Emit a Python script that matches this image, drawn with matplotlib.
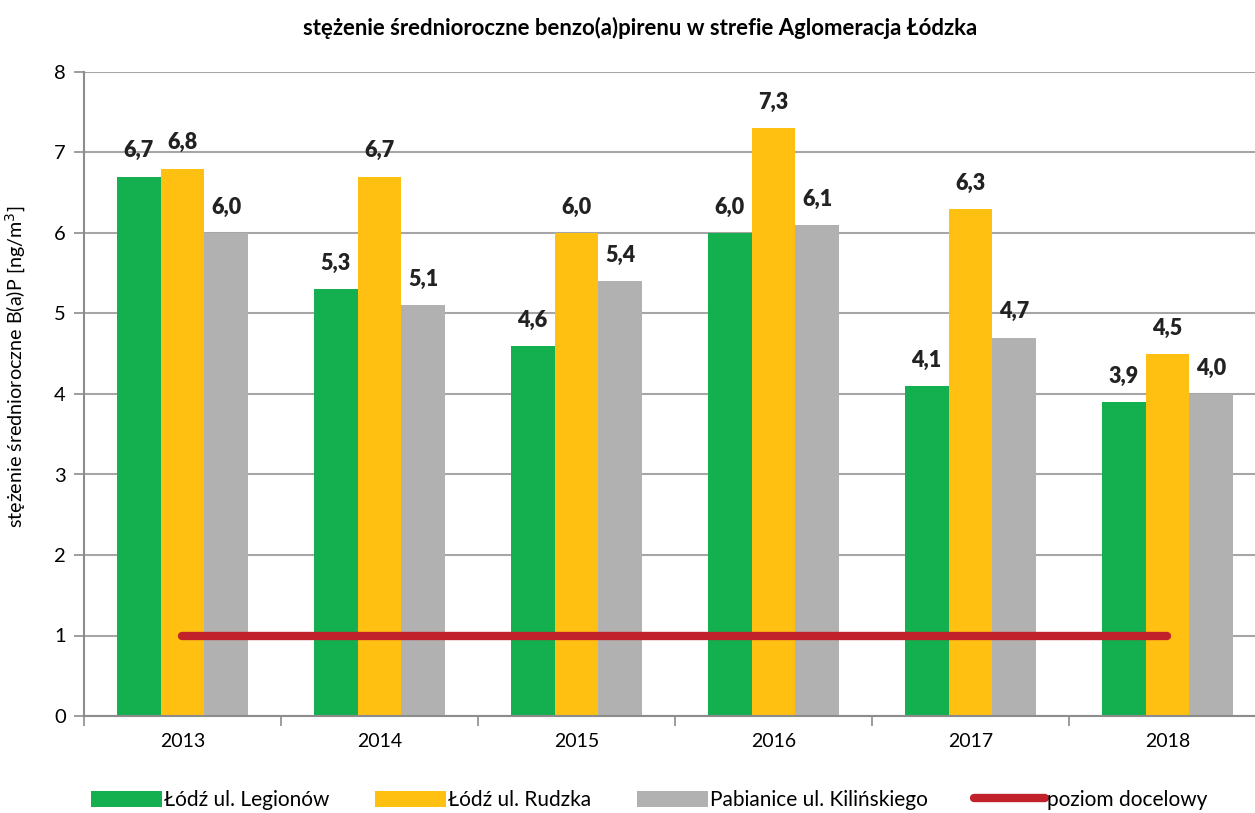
import matplotlib.pyplot as plt
import numpy as np

plt.rcParams['font.family'] = ['Lato', 'DejaVu Sans']

lata = ['2013', '2014', '2015', '2016', '2017', '2018']
legionow = [6.7, 5.3, 4.6, 6.0, 4.1, 3.9]
rudzka = [6.8, 6.7, 6.0, 7.3, 6.3, 4.5]
kilinskiego = [6.0, 5.1, 5.4, 6.1, 4.7, 4.0]
poziom = [1, 1, 1, 1, 1, 1]

serie = [('Łódź ul. Legionów', legionow, '#14B04F'),
         ('Łódź ul. Rudzka', rudzka, '#FFC011'),
         ('Pabianice ul. Kilińskiego', kilinskiego, '#B1B1B1')]

fig = plt.figure(figsize=(12.55, 8.13), dpi=100)
ax = fig.add_axes([84 / 1255, 97 / 813, 1182 / 1255, 644 / 813])

x = np.arange(len(lata))
w = 0.223
uchwyty = []
for i, (nazwa, vals, kolor) in enumerate(serie):
    pos = x + (i - 1) * w
    bars = ax.bar(pos, vals, w, color=kolor, label=nazwa, zorder=2, linewidth=0)
    uchwyty.append(bars)
    for p, v in zip(pos, vals):
        ax.annotate(f'{v:.1f}'.replace('.', ','), (p, v), xytext=(0, 11),
                    textcoords='offset points', ha='center', va='bottom',
                    fontsize=15.5, fontweight='heavy', color='#222222')

linia, = ax.plot(x, poziom, color='#C1212A', linewidth=6, solid_capstyle='round',
                 label='poziom docelowy', zorder=3)
uchwyty.append(linia)

ax.set_xlim(-0.5, 5.5)
ax.set_ylim(0, 8)
ax.set_yticks(range(0, 9))
ax.set_xticks(x)
ax.set_xticklabels(lata)
ax.set_xticks(np.arange(-0.5, 6, 1), minor=True)
ax.tick_params(axis='x', which='major', length=0, pad=12, labelsize=14)
ax.tick_params(axis='x', which='minor', length=7, color='#8C8C8C', width=1.2)
ax.tick_params(axis='y', length=7, color='#8C8C8C', width=1.2, labelsize=14.5, pad=6)
ax.grid(axis='y', color='#A6A6A6', linewidth=1.5, zorder=0)
for s in ['top', 'right']:
    ax.spines[s].set_visible(False)
for s in ['left', 'bottom']:
    ax.spines[s].set_color('#8C8C8C')
    ax.spines[s].set_linewidth(1.5)

ax.set_ylabel('stężenie średnioroczne B(a)P [ng/m$^3$]', fontsize=14.2)
ax.yaxis.set_label_coords(-0.047, 0.543)
fig.text(640 / 1255, 1 - 28 / 813,
         'stężenie średnioroczne benzo(a)pirenu w strefie Aglomeracja Łódzka',
         ha='center', va='center', fontsize=15.9, fontweight='bold')

fig.legend(handles=uchwyty, loc='center', bbox_to_anchor=(649 / 1255, 1 - 800 / 813),
           ncol=4, frameon=False, fontsize=15, handlelength=3.4, handleheight=0.8,
           handletextpad=0.1, columnspacing=2.2)

fig.savefig('out.png', dpi=100)
